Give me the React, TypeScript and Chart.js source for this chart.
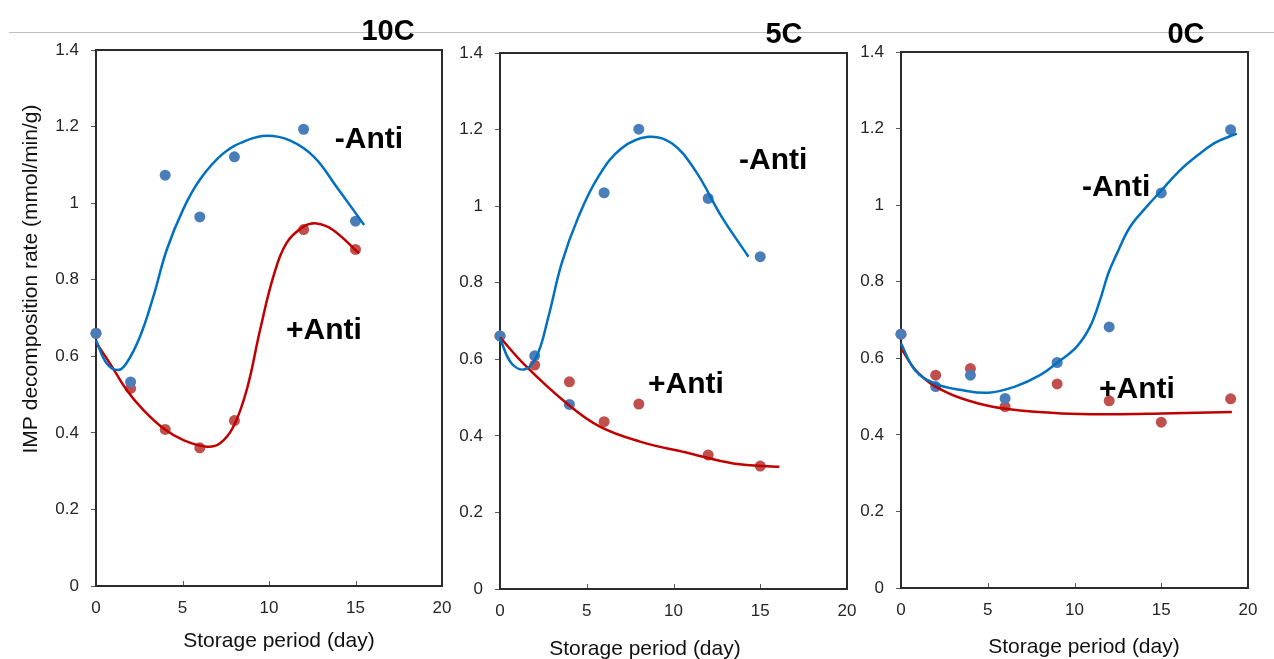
import React, { useEffect, useRef } from "react";
import { Chart, registerables } from "chart.js";

Chart.register(...registerables);

// ---------------- data ----------------
// Storage days at which the measurements were made
const days10C = [0, 2, 4, 6, 8, 12, 15];
const days5C = [0, 2, 4, 6, 8, 12, 15];
const days0C = [0, 2, 4, 6, 9, 12, 15, 19];

// IMP decomposition rate (mmol/min/g)
const minusAnti10C = [0.66, 0.533, 1.073, 0.964, 1.121, 1.193, 0.953];
const plusAnti10C = [0.66, 0.516, 0.409, 0.361, 0.432, 0.931, 0.879];
const minusAnti5C = [0.661, 0.609, 0.482, 1.035, 1.201, 1.02, 0.868];
const plusAnti5C = [0.661, 0.585, 0.541, 0.437, 0.483, 0.35, 0.321];
const minusAnti0C = [0.663, 0.526, 0.556, 0.495, 0.589, 0.682, 1.032, 1.197];
const plusAnti0C = [0.663, 0.556, 0.573, 0.474, 0.533, 0.489, 0.433, 0.494];

// Trend curves (day, value)
const fitMinus10CDays = [0, 0.62, 1.27, 1.75, 2.54, 3.31, 4.08, 5.05, 6.01, 7.36, 8.71, 9.87, 11.2, 12.6, 13.9, 15.5];
const fitMinus10C = [0.642, 0.581, 0.564, 0.581, 0.651, 0.755, 0.877, 0.985, 1.062, 1.13, 1.164, 1.176, 1.164, 1.121, 1.043, 0.943];
const fitPlus10CDays = [0, 0.81, 1.77, 2.73, 3.89, 5.05, 6.4, 7.17, 7.94, 8.71, 9.48, 10.25, 11.0, 11.98, 12.75, 13.7, 15.2];
const fitPlus10C = [0.636, 0.581, 0.512, 0.46, 0.412, 0.381, 0.364, 0.373, 0.416, 0.512, 0.668, 0.808, 0.895, 0.938, 0.947, 0.93, 0.869];

const fitMinus5CDays = [0, 0.67, 1.44, 2.11, 2.79, 3.55, 4.52, 5.67, 7.01, 8.55, 9.9, 11.24, 12.78, 14.32];
const fitMinus5C = [0.654, 0.589, 0.574, 0.607, 0.711, 0.85, 0.972, 1.077, 1.151, 1.181, 1.164, 1.094, 0.972, 0.868];
const fitPlus5CDays = [0, 1.54, 3.84, 5.76, 8.07, 10.95, 13.45, 16.1];
const fitPlus5C = [0.657, 0.58, 0.485, 0.424, 0.385, 0.354, 0.328, 0.319];

const fitMinus0CDays = [0, 0.81, 1.96, 3.5, 5.03, 6.57, 8.01, 9.07, 10.12, 10.89, 11.47, 11.95, 12.43, 13.2, 14.16, 15.02, 16.08, 17.24, 18.2, 19.36];
const fitMinus0C = [0.639, 0.569, 0.534, 0.517, 0.51, 0.526, 0.556, 0.591, 0.63, 0.682, 0.752, 0.822, 0.872, 0.943, 0.996, 1.039, 1.091, 1.135, 1.165, 1.187];
const fitPlus0CDays = [0, 1.0, 2.54, 4.46, 6.38, 9.26, 12.14, 15.03, 19.07];
const fitPlus0C = [0.626, 0.561, 0.513, 0.482, 0.466, 0.456, 0.454, 0.456, 0.46];

// Tick labels
const xTickValues = [0, 5, 10, 15, 20];
const xTickLabels = ["0", "5", "10", "15", "20"];
const yTickValues = [0, 0.2, 0.4, 0.6, 0.8, 1, 1.2, 1.4];
const yTickLabels = ["0", "0.2", "0.4", "0.6", "0.8", "1", "1.2", "1.4"];

// Texts
const panelTitles = ["10C", "5C", "0C"];
const yAxisTitle = "IMP decomposition rate (mmol/min/g)";
const xAxisTitle = "Storage period (day)";
const minusLabel = "-Anti";
const plusLabel = "+Anti";

// ---------------- styles / layout ----------------
const FONT = '"Liberation Sans", Arial, Helvetica, sans-serif';
const BLUE_DOT = "#4A7EBB";
const RED_DOT = "#C0504D";
const BLUE_LINE = "#0070C0";
const RED_LINE = "#C00000";
const H = 659;

type Panel = {
  title: string;
  days: number[];
  minus: number[];
  plus: number[];
  fitMinusX: number[];
  fitMinusY: number[];
  fitPlusX: number[];
  fitPlusY: number[];
  canvasLeft: number;
  width: number;
  area: { left: number; right: number; top: number; bottom: number };
  titleX: number;
  titleBase: number;
  xTitleX: number;
  xTitleBase: number;
  minusPos: [number, number];
  plusPos: [number, number];
  yTitle: boolean;
};

const panels: Panel[] = [
  {
    title: panelTitles[0], days: days10C, minus: minusAnti10C, plus: plusAnti10C,
    fitMinusX: fitMinus10CDays, fitMinusY: fitMinus10C, fitPlusX: fitPlus10CDays, fitPlusY: fitPlus10C,
    canvasLeft: 0, width: 466, area: { left: 96, right: 442, top: 50, bottom: 586 },
    titleX: 388, titleBase: 39.5, xTitleX: 279, xTitleBase: 647,
    minusPos: [13.8, 1.172], plusPos: [10.98, 0.672], yTitle: true,
  },
  {
    title: panelTitles[1], days: days5C, minus: minusAnti5C, plus: plusAnti5C,
    fitMinusX: fitMinus5CDays, fitMinusY: fitMinus5C, fitPlusX: fitPlus5CDays, fitPlusY: fitPlus5C,
    canvasLeft: 440, width: 432, area: { left: 60, right: 407, top: 53, bottom: 589 },
    titleX: 344, titleBase: 43, xTitleX: 205, xTitleBase: 655,
    minusPos: [13.78, 1.125], plusPos: [8.53, 0.54], yTitle: false,
  },
  {
    title: panelTitles[2], days: days0C, minus: minusAnti0C, plus: plusAnti0C,
    fitMinusX: fitMinus0CDays, fitMinusY: fitMinus0C, fitPlusX: fitPlus0CDays, fitPlusY: fitPlus0C,
    canvasLeft: 840, width: 434, area: { left: 61, right: 408, top: 52, bottom: 588 },
    titleX: 346, titleBase: 43, xTitleX: 244, xTitleBase: 653,
    minusPos: [10.43, 1.052], plusPos: [11.41, 0.525], yTitle: false,
  },
];

const toPts = (xs: number[], ys: number[]) => xs.map((x, i) => ({ x, y: ys[i] }));

function makeDecor(p: Panel) {
  return {
    id: "decor",
    beforeDatasetsDraw(chart: any) {
      const { ctx, chartArea: a } = chart;
      ctx.save();
      // inside x tick marks
      ctx.strokeStyle = "#595959";
      ctx.lineWidth = 1;
      const xs = chart.scales.x;
      xTickValues.forEach((v) => {
        const px = Math.round(xs.getPixelForValue(v)) + 0.5;
        ctx.beginPath();
        ctx.moveTo(px, a.bottom);
        ctx.lineTo(px, a.bottom - 5);
        ctx.stroke();
      });
      // plot box
      ctx.strokeStyle = "#2b2b2b";
      ctx.lineWidth = 2;
      ctx.strokeRect(a.left, a.top, a.right - a.left, a.bottom - a.top);
      ctx.restore();
    },
    afterDraw(chart: any) {
      const { ctx } = chart;
      const xs = chart.scales.x;
      const ys = chart.scales.y;
      ctx.save();
      ctx.fillStyle = "#000";
      ctx.textBaseline = "alphabetic";
      // panel title
      ctx.font = `bold 29px ${FONT}`;
      ctx.textAlign = "center";
      ctx.fillText(p.title, p.titleX, p.titleBase);
      // series labels
      ctx.font = `bold 30px ${FONT}`;
      ctx.textAlign = "left";
      ctx.fillText(minusLabel, xs.getPixelForValue(p.minusPos[0]), ys.getPixelForValue(p.minusPos[1]) + 10.5);
      ctx.fillText(plusLabel, xs.getPixelForValue(p.plusPos[0]), ys.getPixelForValue(p.plusPos[1]) + 10.5);
      // x axis title
      ctx.fillStyle = "#111";
      ctx.font = `21px ${FONT}`;
      ctx.textAlign = "center";
      ctx.fillText(xAxisTitle, p.xTitleX, p.xTitleBase);
      // y axis title
      if (p.yTitle) {
        ctx.translate(31, 279);
        ctx.rotate(-Math.PI / 2);
        ctx.font = `21px ${FONT}`;
        ctx.textBaseline = "middle";
        ctx.fillText(yAxisTitle, 0, 0);
      }
      ctx.restore();
    },
  };
}

function PanelChart({ p }: { p: Panel }) {
  const ref = useRef<HTMLCanvasElement>(null);
  useEffect(() => {
    if (!ref.current) return;
    const a = p.area;
    const chart = new Chart(ref.current, {
      type: "scatter",
      data: {
        datasets: [
          {
            label: "-Anti trend",
            data: toPts(p.fitMinusX, p.fitMinusY),
            showLine: true,
            borderColor: BLUE_LINE,
            borderWidth: 2.5,
            pointRadius: 0,
            tension: 0.4,
            order: 0,
            clip: false,
          } as any,
          {
            label: "+Anti trend",
            data: toPts(p.fitPlusX, p.fitPlusY),
            showLine: true,
            borderColor: RED_LINE,
            borderWidth: 2.5,
            pointRadius: 0,
            tension: 0.4,
            order: 1,
            clip: false,
          } as any,
          {
            label: "-Anti",
            data: toPts(p.days, p.minus),
            pointRadius: 5.5,
            pointBackgroundColor: BLUE_DOT,
            pointBorderColor: BLUE_DOT,
            pointBorderWidth: 0,
            order: 2,
            clip: false,
          } as any,
          {
            label: "+Anti",
            data: toPts(p.days, p.plus),
            pointRadius: 5.5,
            pointBackgroundColor: RED_DOT,
            pointBorderColor: RED_DOT,
            pointBorderWidth: 0,
            order: 3,
            clip: false,
          } as any,
        ],
      },
      options: {
        responsive: false,
        animation: false,
        devicePixelRatio: 1,
        events: [],
        layout: { padding: { left: 0, top: a.top, right: p.width - a.right, bottom: 0 } },
        plugins: { legend: { display: false }, tooltip: { enabled: false }, title: { display: false } },
        scales: {
          x: {
            type: "linear",
            min: 0,
            max: 20,
            afterBuildTicks: (s: any) => {
              s.ticks = xTickValues.map((v) => ({ value: v }));
            },
            afterFit: (s: any) => {
              s.height = H - a.bottom;
            },
            ticks: {
              callback: (_v: any, i: number) => xTickLabels[i],
              font: { family: FONT, size: 17 },
              color: "#262626",
              padding: 4,
              maxRotation: 0,
              autoSkip: false,
            },
            grid: { display: false },
            border: { display: false },
          },
          y: {
            type: "linear",
            min: 0,
            max: 1.4,
            afterBuildTicks: (s: any) => {
              s.ticks = yTickValues.map((v) => ({ value: v }));
            },
            afterFit: (s: any) => {
              s.width = a.left;
            },
            ticks: {
              callback: (_v: any, i: number) => yTickLabels[i],
              font: { family: FONT, size: 17 },
              color: "#262626",
              padding: 12,
              autoSkip: false,
            },
            grid: { display: true, drawOnChartArea: false, drawTicks: true, tickLength: 5, color: "#595959", lineWidth: 1 },
            border: { display: false },
          },
        },
      } as any,
      plugins: [makeDecor(p)],
    });
    return () => chart.destroy();
  }, [p]);
  return (
    <canvas
      ref={ref}
      width={p.width}
      height={H}
      style={{ position: "absolute", left: p.canvasLeft, top: 0, width: p.width, height: H }}
    />
  );
}

export default function App() {
  return (
    <div style={{ position: "absolute", left: 0, top: 0, width: 1274, height: H, overflow: "hidden", background: "#fff" }}>
      <div style={{ position: "absolute", left: 9, top: 32, width: 1265, height: 1, background: "#BFBFBF" }} />
      {panels.map((p) => (
        <PanelChart key={p.title} p={p} />
      ))}
    </div>
  );
}
